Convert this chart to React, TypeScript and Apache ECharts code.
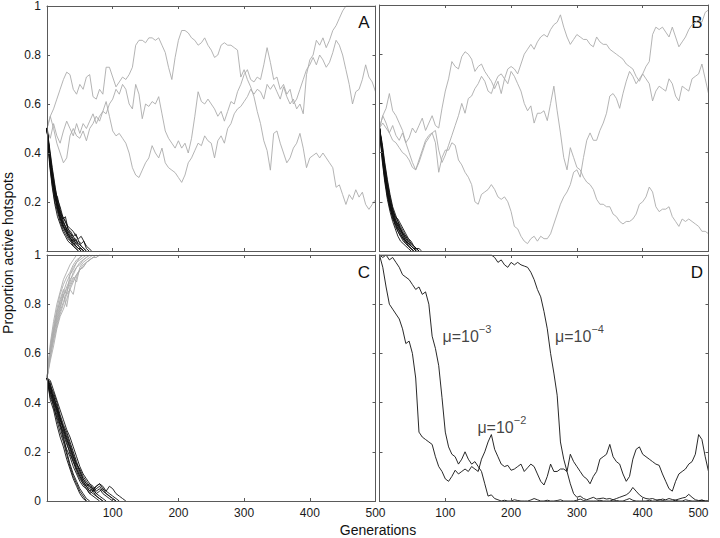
import React, { useEffect, useRef } from 'react';
import * as echarts from 'echarts';

// generations sampled every STEP generations (values are percent of hotspots)
const STEP = 5;
const STEP_AB_BLACK = 4;

// ---------- Panel A ----------
const A_gray1 = [
  50,55,58,62,66,70,73,72,66,64,
  68,66,71,72,63,62,66,64,75,75,
  71,67,69,71,70,72,75,84,86,86,
  85,87,87,86,87,84,81,75,70,79,
  86,90,90,89,87,86,84,85,87,84,
  82,79,80,84,85,84,84,83,82,71,
  74,70,67,63,57,52,45,41,33,48,
  49,44,40,36,38,42,44,48,42,34,
  38,39,40,38,40,38,36,34,26,27,
  23,19,23,21,25,22,24,19,17,19,
  21];
const A_gray2 = [
  50,55,50,44,40,36,38,47,50,47,
  46,49,45,50,52,55,53,57,56,60,
  62,66,64,68,66,60,58,68,64,54,
  60,59,61,60,63,56,49,46,44,42,
  45,42,44,40,46,55,65,61,60,62,
  60,58,55,57,53,57,61,60,65,68,
  72,74,70,69,71,70,76,83,77,70,
  71,66,68,64,66,60,62,66,70,74,
  76,79,76,80,78,75,77,81,86,84,
  80,74,68,60,65,66,70,76,71,69,
  65];
const A_gray3 = [
  50,46,52,47,44,49,53,50,47,52,
  48,52,50,53,56,52,55,57,61,55,
  49,47,48,46,44,40,34,31,30,33,
  36,38,43,40,38,42,36,34,33,32,
  30,28,31,36,38,41,44,43,47,45,
  44,38,45,47,44,50,52,56,58,59,
  61,63,66,64,66,65,62,68,66,68,
  65,62,67,63,60,62,58,60,56,72,
  78,80,86,84,87,83,86,90,92,95,
  98,100,100,100,100,100,100,100,100,100,
  100];
const A_black = [
  [50,38,29,22,17,14,11,8,6,5,3,2,1,0],
  [50,40,31,25,19,15,13,10,8,6,5,3,2,1,0],
  [50,36,27,20,16,12,9,7,5,4,2,1,0],
  [50,41,33,26,21,18,14,12,9,7,6,4,3,2,1,0],
  [50,37,28,23,18,13,10,9,6,4,3,2,1,0],
  [50,39,30,24,22,17,13,14,9,8,6,7,4,3,4,1,0],
  [50,35,26,19,14,11,8,6,4,3,2,1,0],
  [50,42,34,27,20,16,14,12,10,9,8,6,5,6,4,2,1,0],
  [50,38,31,23,19,15,11,9,7,5,4,2,1,1,0],
  [50,40,29,24,17,13,12,10,7,6,4,5,2,1,0],
  [50,37,30,25,20,16,12,10,8,7,5,3,4,2,1,0],
  [50,39,32,22,18,14,10,8,7,5,3,2,1,0],
];

// ---------- Panel B ----------
const B_gray1 = [
  50,55,52,48,51,47,45,48,44,46,
  50,48,51,54,49,52,55,51,50,58,
  65,70,77,75,74,79,81,80,78,73,
  75,76,73,71,69,66,69,64,70,74,
  75,74,72,76,80,82,84,82,85,87,
  88,87,90,92,93,96,91,87,84,86,
  88,87,86,86,84,83,87,85,84,84,
  82,81,80,79,78,76,75,74,71,69,
  72,70,68,61,65,67,66,65,70,68,
  63,61,67,66,65,70,71,72,76,70,
  64];
const B_gray2 = [
  50,55,58,64,57,55,52,49,44,40,
  36,33,37,41,45,47,48,49,41,36,
  39,43,47,51,55,60,56,62,63,66,
  68,71,69,65,64,68,71,72,70,68,
  73,71,68,65,60,57,59,52,56,56,
  57,53,60,67,57,48,38,33,42,38,
  34,33,30,28,27,25,21,19,19,18,
  18,15,14,12,11,12,12,13,15,19,
  20,22,26,24,18,16,17,17,18,14,
  12,10,13,12,13,12,11,10,8,8,
  7];
const B_gray3 = [
  50,52,50,48,45,44,42,40,39,37,
  34,33,36,40,44,46,48,44,32,38,
  41,41,44,43,37,35,32,30,27,20,
  19,23,24,25,27,25,22,21,22,20,
  16,10,9,6,4,3,5,6,4,6,
  5,5,7,11,15,19,22,24,27,32,
  33,30,38,45,48,45,45,49,52,56,
  63,64,62,58,64,69,73,71,68,70,
  72,75,77,88,91,90,91,89,87,91,
  87,83,85,87,90,92,93,94,93,97,
  98];
const B_black = [
  [50,41,32,25,19,15,12,9,7,5,4,2,1,0],
  [50,39,30,22,17,14,10,8,6,5,3,2,1,0],
  [50,43,35,28,22,17,14,12,10,8,6,5,3,2,1,0],
  [50,37,28,21,16,12,9,6,4,3,2,1,0],
  [50,42,33,26,20,16,14,13,11,9,7,5,4,2,1,0],
  [50,40,31,24,18,13,11,9,8,6,4,3,2,1,0],
  [50,44,36,29,23,18,15,12,9,7,6,4,3,2,1,1,0],
  [50,38,29,23,18,15,11,8,6,4,3,2,1,0],
  [50,41,34,27,21,17,13,11,8,7,5,4,2,1,0],
  [50,39,32,26,20,15,12,10,9,7,5,3,2,1,0],
  [50,42,33,24,18,14,12,11,9,6,4,3,2,1,1,0],
  [50,40,30,23,19,16,13,10,7,5,4,3,2,1,0],
];

// ---------- Panel C ----------
const C_gray = [
  [50,62,70,76,82,86,84,92,95,97,99,100],
  [50,58,66,72,77,81,85,88,91,89,95,97,98,99,100],
  [50,64,73,80,85,90,93,96,98,100],
  [50,60,68,75,80,84,79,87,90,92,94,96,97,98,99,100],
  [50,57,63,70,75,78,82,86,84,91,94,95,97,98,99,99,100],
  [50,63,71,78,84,88,91,93,96,98,99,100],
  [50,61,67,74,79,83,87,90,92,95,97,98,99,100],
  [50,59,65,71,76,80,84,86,89,92,94,95,97,98,99,99,100,100,100,100],
  [50,62,69,77,81,85,89,92,94,97,98,99,100],
  [50,60,69,73,78,84,86,89,93,95,96,98,99,100],
];
const C_black = [
  [50,46,41,36,31,26,20,15,11,8,5,3,1,0],
  [50,44,43,37,33,29,25,22,18,14,11,8,6,4,3,2,1,0],
  [50,48,40,38,34,30,27,23,19,15,12,9,7,6,5,6,7,5,4,6,5,3,2,1,0],
  [50,42,39,33,28,24,19,14,10,7,4,2,0],
  [50,47,44,40,35,31,28,24,20,16,12,9,7,5,4,5,6,4,3,2,1,0],
  [50,45,38,34,30,25,21,18,14,11,8,6,5,3,4,6,7,6,4,3,2,1,0],
  [50,43,40,35,31,28,24,19,16,13,10,7,5,3,2,1,0],
  [50,49,45,41,37,33,29,26,22,18,14,11,9,7,6,4,5,3,2,1,0],
  [50,41,37,31,26,22,17,13,9,6,3,1,0],
  [50,46,42,39,34,29,25,21,17,13,10,8,6,4,5,3,4,5,3,2,1,0],
  [50,44,41,37,32,27,23,20,16,12,9,7,6,7,5,3,2,1,0],
  [50,47,43,38,33,30,26,22,18,15,13,10,8,6,4,2,1,0],
];

// ---------- Panel D ----------
const D_mu2 = [
  100,95,87,80,78,76,74,70,64,65,
  60,50,28,26,25,24,23,18,14,12,
  9,8,10,12.5,11,12,13,12,14,13,
  12,17,20,24,27,21,18,15,14,14.5,
  12.5,13,14,15,12,13.5,15,14,11,8,
  6.5,10,15,12,12,13,13,12,19,16,
  14,12,10,9,7,10,12,17,18,19,
  23,18,16,15,11,8,10,17,21,22,
  19,18,17,16,15,14.5,11,8,5,4,
  8,11,12,13,15,16,19,27,25,18,
  12];
const D_mu3 = [
  100,99,100,98,99,97,95,92,91,90,
  88,86,87,84,85,80,67,62,55,42,
  28,22,19,18,15,17,20,17,15,16,
  14,12,7,2,2.5,1,0.5,0,0.3,0,
  0,0.5,0.2,0,0,0,0.4,1,0.5,0,
  0,0.3,0,0,0.2,0.5,0,0,0,0,
  0.3,0.8,0.2,0,0,0,0,0.3,0,0,
  0,0.4,0.2,0,0,0.5,1,0.3,0,0,
  0,0,0.3,0,0,0.6,0.2,0,0,0,
  0.3,0,0,0.5,0.2,0,0,0,0.4,0,
  0];
const D_mu4 = [
  100,100,100,100,100,100,100,100,100,100,
  100,100,100,100,100,100,100,100,100,100,
  100,100,100,100,100,100,100,100,100,100,
  100,100,100,100,100,99,97,98,96,95,
  97,96,97,96,95.5,95,93,90,86,83,
  77,70,60,52,43,24,17,12,7,3,
  1.5,2,1,0.5,1,1.5,0.8,1,1.2,0.8,
  1,0.5,1,1.5,2,2.5,3.5,5.5,4,2.5,
  1.5,1,0.8,1,0.5,0.3,0.8,0.5,1,0.6,
  0.4,0.8,1.2,1.5,2.7,1.5,0.5,0.2,0.3,0,
  0];
// annotation anchors (generation, proportion) and exponents
const D_labelGen = [95, 266, 148];
const D_labelVal = [0.67, 0.67, 0.3];
const D_labelExp = ['\u22123', '\u22124', '\u22122'];

const panelLetters = ['A', 'B', 'C', 'D'];

const FONT = 'Liberation Sans, Arial, Helvetica, sans-serif';
const FRAME = '#5a5a5a';
const GRAY = '#ababab';
const BLACK = '#111111';

const pts = (arr: number[], step: number) => arr.map((v, i) => [i * step, v / 100]);

function buildOption() {
  const grids = [
    { left: 47, top: 5, width: 328.5, height: 246 },
    { left: 379.5, top: 5, width: 329, height: 246 },
    { left: 47, top: 255, width: 328.5, height: 246 },
    { left: 379.5, top: 255, width: 329, height: 246 },
  ];
  const axLine = { show: true, onZero: false, lineStyle: { color: FRAME, width: 1 } };
  const axTick = { show: true, inside: true, length: 3, lineStyle: { color: FRAME, width: 1 } };
  const xAxis: any[] = [];
  const yAxis: any[] = [];
  grids.forEach((_, g) => {
    const showX = g >= 2;
    const showY = g === 0 || g === 2;
    xAxis.push({
      gridIndex: g, type: 'value', min: 0, max: 500, interval: 100, position: 'bottom', z: 10,
      axisLine: axLine, axisTick: axTick, splitLine: { show: false },
      axisLabel: {
        show: showX, margin: 6, fontSize: 12, color: '#1a1a1a', fontFamily: FONT,
        formatter: (v: number) => (v === 0 ? '' : String(v)),
        alignMaxLabel: g === 3 ? 'right' : undefined,
      },
    });
    xAxis.push({
      gridIndex: g, type: 'value', min: 0, max: 500, interval: 100, position: 'top', z: 10,
      axisLine: axLine, axisTick: axTick, splitLine: { show: false }, axisLabel: { show: false },
    });
    yAxis.push({
      gridIndex: g, type: 'value', min: 0, max: 1, interval: 0.2, position: 'left', z: 10,
      axisLine: axLine, axisTick: axTick, splitLine: { show: false },
      axisLabel: {
        show: showY, margin: 6, fontSize: 12, color: '#1a1a1a', fontFamily: FONT,
        formatter: (v: number) => (g === 0 && v === 0 ? '' : String(Math.round(v * 10) / 10)),
      },
    });
    yAxis.push({
      gridIndex: g, type: 'value', min: 0, max: 1, interval: 0.2, position: 'right', z: 10,
      axisLine: axLine, axisTick: axTick, splitLine: { show: false }, axisLabel: { show: false },
    });
  });

  const series: any[] = [];
  const addLine = (g: number, arr: number[], step: number, color: string, z: number) => {
    series.push({
      type: 'line', xAxisIndex: g * 2, yAxisIndex: g * 2, data: pts(arr, step),
      showSymbol: false, symbol: 'none', silent: true, clip: true, z,
      lineStyle: { color, width: 0.9 },
    });
  };
  [A_gray1, A_gray2, A_gray3].forEach((a) => addLine(0, a, STEP, GRAY, 2));
  A_black.forEach((a) => addLine(0, a, STEP_AB_BLACK, BLACK, 3));
  [B_gray1, B_gray2, B_gray3].forEach((a) => addLine(1, a, STEP, GRAY, 2));
  B_black.forEach((a) => addLine(1, a, STEP_AB_BLACK, BLACK, 3));
  C_gray.forEach((a) => addLine(2, a, STEP, GRAY, 2));
  C_black.forEach((a) => addLine(2, a, STEP, BLACK, 3));
  [D_mu2, D_mu3, D_mu4].forEach((a) => addLine(3, a, STEP, BLACK, 3));

  series.push({
    type: 'scatter', xAxisIndex: 6, yAxisIndex: 6, symbolSize: 1, silent: true, z: 5,
    itemStyle: { color: 'rgba(0,0,0,0)' },
    data: D_labelGen.map((gen, i) => ({ value: [gen, D_labelVal[i]], name: D_labelExp[i] })),
    label: {
      show: true, position: 'right', distance: 0,
      formatter: (p: any) => `{a|\u03bc=10}{b|${p.name}}`,
      rich: {
        a: { fontSize: 16, lineHeight: 26, fontFamily: FONT, color: '#111' },
        b: { fontSize: 11, lineHeight: 11, verticalAlign: 'top', fontFamily: FONT, color: '#111' },
      },
    },
  });

  const letterPos = [[364, 22], [697, 22], [364, 272], [697, 272]];
  const graphic: any[] = panelLetters.map((t, i) => ({
    type: 'text', x: letterPos[i][0], y: letterPos[i][1], silent: true,
    style: { text: t, fontSize: 17, fontFamily: FONT, fill: '#111', align: 'center', verticalAlign: 'middle' },
  }));
  graphic.push({
    type: 'text', x: 8, y: 253, rotation: Math.PI / 2, silent: true,
    style: { text: 'Proportion active hotspots', fontSize: 14, fontFamily: FONT, fill: '#111', align: 'center', verticalAlign: 'middle' },
  });
  graphic.push({
    type: 'text', x: 378, y: 530, silent: true,
    style: { text: 'Generations', fontSize: 14, fontFamily: FONT, fill: '#111', align: 'center', verticalAlign: 'middle' },
  });

  return {
    animation: false,
    backgroundColor: '#ffffff',
    grid: grids,
    xAxis,
    yAxis,
    series,
    graphic,
  };
}

export default function App() {
  const ref = useRef<HTMLDivElement>(null);
  useEffect(() => {
    if (!ref.current) return;
    const chart = echarts.init(ref.current, undefined, { renderer: 'svg' });
    chart.setOption(buildOption() as any);
    return () => chart.dispose();
  }, []);
  return (
    <div
      ref={ref}
      style={{ position: 'absolute', left: 0, top: 0, width: 720, height: 538, background: '#fff' }}
    />
  );
}
